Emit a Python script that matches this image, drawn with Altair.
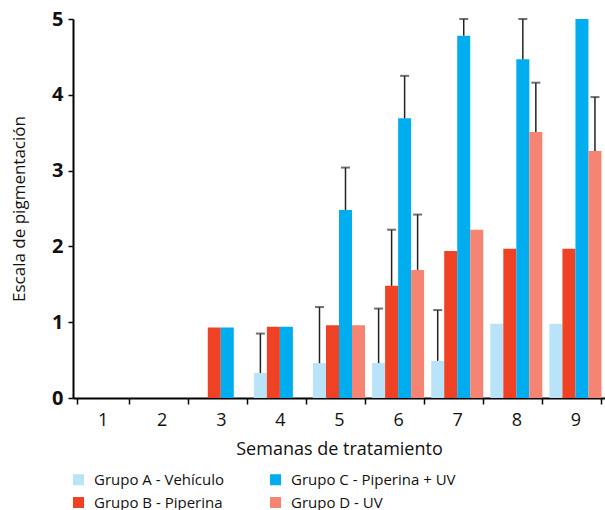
import altair as alt
import pandas as pd

# Weekly pigmentation score (mean) and standard deviation per group
weeks = [1, 2, 3, 4, 5, 6, 7, 8, 9]
groups = ["Grupo A - Vehículo", "Grupo B - Piperina",
          "Grupo C - Piperina + UV", "Grupo D - UV"]
colors = ["#b9e3f8", "#ef4123", "#00aeef", "#f58472"]

grupo_a = [0, 0, 0, 0.33, 0.46, 0.46, 0.49, 0.98, 0.98]
grupo_b = [0, 0, 0.93, 0.94, 0.96, 1.48, 1.94, 1.97, 1.97]
grupo_c = [0, 0, 0.93, 0.94, 2.48, 3.69, 4.78, 4.47, 5.0]
grupo_d = [0, 0, 0, 0, 0.96, 1.69, 2.22, 3.51, 3.26]

sd_a = [0, 0, 0, 0.52, 0.74, 0.72, 0.67, 0, 0]
sd_b = [0, 0, 0, 0, 0, 0.74, 0, 0, 0]
sd_c = [0, 0, 0, 0, 0.56, 0.56, 0.22, 0.53, 0]
sd_d = [0, 0, 0, 0, 0, 0.73, 0, 0.65, 0.71]

rows = []
for g, means, sds in zip(groups, [grupo_a, grupo_b, grupo_c, grupo_d],
                         [sd_a, sd_b, sd_c, sd_d]):
    for w, m, s in zip(weeks, means, sds):
        rows.append({"semana": str(w), "grupo": g, "valor": m,
                     "sd": s, "sup": m + s})
df = pd.DataFrame(rows)
err = df[df["sd"] > 0]

FONT = "Open Sans"
week_order = [str(w) for w in weeks]

x_enc = alt.X("semana:N", sort=week_order,
              scale=alt.Scale(paddingInner=0.12, paddingOuter=0.06),
              axis=alt.Axis(title="Semanas de tratamiento", labelAngle=0,
                            tickBand="extent", tickSize=6, tickWidth=1.5,
                            tickColor="black", domainColor="black",
                            domainWidth=2, labelFontSize=18,
                            labelColor="#111", labelPadding=7,
                            titleFontSize=18, titleFontWeight="normal",
                            titleColor="#111", titlePadding=11))
xoff = alt.XOffset("grupo:N", sort=groups, scale=alt.Scale(domain=groups))
y_scale = alt.Scale(domain=[0, 5], nice=False)

bars = alt.Chart(df).mark_bar(clip=True).encode(
    x=x_enc,
    xOffset=xoff,
    y=alt.Y("valor:Q", scale=y_scale,
            axis=alt.Axis(title="Escala de pigmentación", values=[0, 1, 2, 3, 4, 5],
                          format="d", grid=False, tickSize=5, tickWidth=1.5,
                          tickColor="black", domainColor="black",
                          domainWidth=2, labelFontSize=20,
                          labelFontWeight="bold", labelColor="#111",
                          labelPadding=5, titleFontSize=17,
                          titleFontWeight="normal", titleColor="#111",
                          titlePadding=23)),
    color=alt.Color("grupo:N",
                    scale=alt.Scale(domain=groups, range=colors),
                    legend=alt.Legend(title=None, orient="none", legendX=-2,
                                      legendY=453, columns=2, padding=0,
                                      symbolType="square", symbolSize=121,
                                      symbolStrokeWidth=0, labelFontSize=15,
                                      labelLimit=300,
                                      labelColor="#111", columnPadding=44,
                                      rowPadding=7, labelOffset=8)),
)

whisker = alt.Chart(err).mark_rule(color="#222", strokeWidth=1.5).encode(
    x=alt.X("semana:N", sort=week_order),
    xOffset=xoff,
    y=alt.Y("valor:Q", scale=y_scale),
    y2="sup:Q",
)

cap = alt.Chart(err).mark_tick(color="#333", thickness=2, size=9,
                               orient="horizontal").encode(
    x=alt.X("semana:N", sort=week_order),
    xOffset=xoff,
    y=alt.Y("sup:Q", scale=y_scale),
)

chart = alt.layer(bars, whisker, cap).properties(
    width=532, height=379,
    autosize=alt.AutoSizeParams(type="none"),
    padding={"left": 73, "top": 19, "right": 0, "bottom": 112},
).configure(font=FONT).configure_view(stroke=None)

chart.save("out.html", embed_options={"renderer": "svg", "actions": False})
